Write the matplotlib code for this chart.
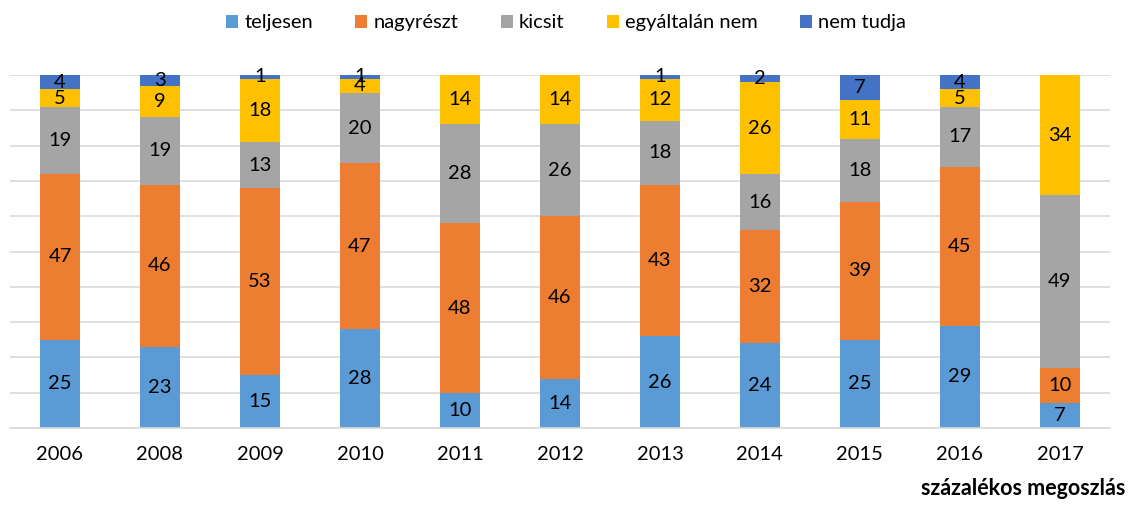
import numpy as np
import matplotlib.pyplot as plt

plt.rcParams['font.family'] = ['Lato', 'DejaVu Sans']

# data
years = ['2006', '2008', '2009', '2010', '2011', '2012', '2013', '2014', '2015', '2016', '2017']
teljesen = [25, 23, 15, 28, 10, 14, 26, 24, 25, 29, 7]
nagyreszt = [47, 46, 53, 47, 48, 46, 43, 32, 39, 45, 10]
kicsit = [19, 19, 13, 20, 28, 26, 18, 16, 18, 17, 49]
egyaltalan = [5, 9, 18, 4, 14, 14, 12, 26, 11, 5, 34]
nem_tudja = [4, 3, 1, 1, 0, 0, 1, 2, 7, 4, 0]

series = [('teljesen', teljesen, '#5B9BD5'),
          ('nagyrészt', nagyreszt, '#ED7D31'),
          ('kicsit', kicsit, '#A5A5A5'),
          ('egyáltalán nem', egyaltalan, '#FFC000'),
          ('nem tudja', nem_tudja, '#4472C4')]

fig = plt.figure(figsize=(11.32, 5.09), dpi=100)
ax = fig.add_axes([0.0088, 0.159, 0.9717, 0.6935])

x = np.arange(len(years))
bottom = np.zeros(len(years))
for name, vals, col in series:
    vals = np.array(vals, dtype=float)
    ax.bar(x, vals, 0.4, bottom=bottom, color=col, label=name, zorder=2)
    for xi, b, v in zip(x, bottom, vals):
        if v > 0:
            ax.text(xi, b + v / 2, str(int(v)), ha='center', va='center',
                    fontsize=14.5, color='black', zorder=3)
    bottom += vals

ax.set_xlim(-0.5, len(years) - 0.5)
ax.set_ylim(0, 100)
ax.set_yticks(np.arange(0, 101, 10))
ax.yaxis.grid(True, color='#D9D9D9', linewidth=1.2, zorder=0)
ax.set_yticklabels([])
ax.tick_params(axis='y', length=0)
ax.set_xticks(x)
ax.set_xticklabels(years, fontsize=14.5)
ax.tick_params(axis='x', length=0, pad=13)
for s in ['top', 'right', 'left']:
    ax.spines[s].set_visible(False)
ax.spines['bottom'].set_color('#D9D9D9')
ax.spines['bottom'].set_linewidth(1.2)

fig.legend(loc='center', bbox_to_anchor=(0.5, 0.955), ncol=5, frameon=False,
           fontsize=14.5, handlelength=0.6, handleheight=0.6, handletextpad=0.3,
           columnspacing=2.1)

fig.text(0.994, 0.02, 'százalékos megoszlás', ha='right', va='bottom',
         fontsize=15.5, fontweight='bold')

fig.savefig('out.png', dpi=100)
